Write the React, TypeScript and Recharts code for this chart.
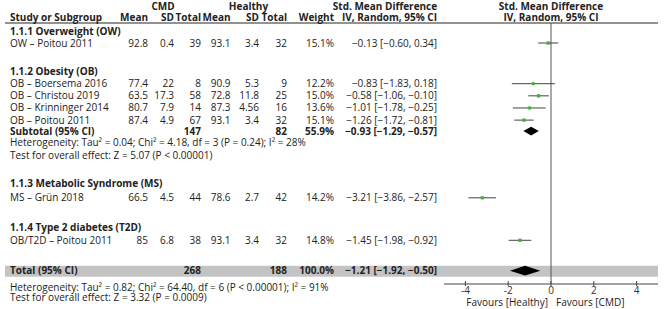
import React from "react";
import {
  ComposedChart,
  ReferenceArea,
  ReferenceLine,
  Scatter,
  XAxis,
  YAxis,
} from "recharts";

// Study-level data (CMD vs Healthy)
const studies = [
  "OW – Poitou 2011",
  "OB – Boersema 2016",
  "OB – Christou 2019",
  "OB – Krinninger 2014",
  "OB – Poitou 2011",
  "MS – Grün 2018",
  "OB/T2D – Poitou 2011",
];
const cmdMean = [92.8, 77.4, 63.5, 80.7, 87.4, 66.5, 85];
const cmdSd = [0.4, 22, 17.3, 7.9, 4.9, 4.5, 6.8];
const cmdTotal = [39, 8, 58, 14, 67, 44, 38];
const healthyMean = [93.1, 90.9, 72.8, 87.3, 93.1, 78.6, 93.1];
const healthySd = [3.4, 5.3, 11.8, 4.56, 3.4, 2.7, 3.4];
const healthyTotal = [32, 9, 25, 16, 32, 42, 32];
const weight = [15.1, 12.2, 15.0, 13.6, 15.1, 14.2, 14.8];
const smd = [-0.13, -0.83, -0.58, -1.01, -1.26, -3.21, -1.45];
const ciLow = [-0.6, -1.83, -1.06, -1.78, -1.72, -3.86, -1.98];
const ciHigh = [0.34, 0.18, -0.1, -0.25, -0.81, -2.57, -0.92];

const groups = [
  "1.1.1 Overweight (OW)",
  "1.1.2 Obesity (OB)",
  "1.1.3 Metabolic Syndrome (MS)",
  "1.1.4 Type 2 diabetes (T2D)",
];

// pooled results
const subtotal = { cmd: 147, healthy: 82, weight: 55.9, smd: -0.93, low: -1.29, high: -0.57 };
const total = { cmd: 268, healthy: 188, weight: 100.0, smd: -1.21, low: -1.92, high: -0.5 };
const subtotalHet = "Heterogeneity: Tau² = 0.04; Chi² = 4.18, df = 3 (P = 0.24); I² = 28%";
const subtotalTest = "Test for overall effect: Z = 5.07 (P < 0.00001)";
const totalHet = "Heterogeneity: Tau² = 0.82; Chi² = 64.40, df = 6 (P < 0.00001); I² = 91%";
const totalTest = "Test for overall effect: Z = 3.32 (P = 0.0009)";

const xTicks = [-4, -2, 0, 2, 4];

// ---- layout (row slots, in lines below the header rule) ----
const W = 669;
const H = 309;
const PLOT_TOP = 23;
const PLOT_BOTTOM = 284;
const PLOT_RIGHT = 658;
const PLOT_LEFT = 444;
const LINES = 21.5;
const studyLine = [1.65, 5, 6, 7, 8, 14.4, 17.9];
const groupLine = [0.7, 4.0, 13.2, 16.85];
const subtotalLine = 8.9;
const subtotalHetLine = 9.85;
const subtotalTestLine = 10.9;
const totalLine = 20.4;
const totalHetLine = 21.75;
const totalTestLine = 22.65;

const col = { mean: 148, sd: 174, n: 201, hmean: 230.5, hsd: 259, hn: 287, weight: 334, ci: 437 };

const FONT = "'Open Sans', 'DejaVu Sans', sans-serif";
const TEXT = "#222";
const GREEN = "#3cb43c";

const lineY = (l: number) => PLOT_TOP + (l / LINES) * (PLOT_BOTTOM - PLOT_TOP);
const base = (l: number) => lineY(l) + 3.5;

const m = (v: number) => v.toFixed(2).replace("-", "−");
const fmtCI = (e: number, lo: number, hi: number) => `${m(e)} [${m(lo)}, ${m(hi)}]`;

const points = smd.map((v, i) => ({ x: v, y: studyLine[i], w: weight[i] }));

function T({
  x,
  y,
  children,
  anchor = "end",
  bold = false,
}: {
  x: number;
  y: number;
  children: React.ReactNode;
  anchor?: "start" | "middle" | "end";
  bold?: boolean;
}) {
  return (
    <text x={x} y={y} textAnchor={anchor} fontWeight={bold ? 700 : 400} fontSize={10} fill={TEXT}>
      {children}
    </text>
  );
}

function Table() {
  return (
    <svg width={W} height={H} style={{ position: "absolute", left: 0, top: 0, fontFamily: FONT }}>
      <rect x={5} y={lineY(20.0)} width={PLOT_RIGHT - 5} height={lineY(20.9) - lineY(20.0)} fill="#c3c3c3" />
      <line x1={5} x2={PLOT_RIGHT} y1={PLOT_TOP} y2={PLOT_TOP} stroke="#6e6e6e" strokeWidth={1.5} />

      {/* header */}
      <T x={163} y={9.5} anchor="middle" bold>CMD</T>
      <T x={248.5} y={9.5} anchor="middle" bold>Healthy</T>
      <T x={385} y={9.5} anchor="middle" bold>Std. Mean Difference</T>
      <T x={551} y={9.5} anchor="middle" bold>Std. Mean Difference</T>
      <T x={10} y={21} anchor="start" bold>Study or Subgroup</T>
      <T x={col.mean} y={21} bold>Mean</T>
      <T x={col.sd} y={21} bold>SD</T>
      <T x={col.n} y={21} bold>Total</T>
      <T x={col.hmean} y={21} bold>Mean</T>
      <T x={col.hsd} y={21} bold>SD</T>
      <T x={col.hn} y={21} bold>Total</T>
      <T x={col.weight} y={21} bold>Weight</T>
      <T x={col.ci} y={21} bold>IV, Random, 95% CI</T>
      <T x={551} y={21} anchor="middle" bold>IV, Random, 95% CI</T>

      {groups.map((g, i) => (
        <T key={g} x={10} y={base(groupLine[i])} anchor="start" bold>{g}</T>
      ))}

      {studies.map((s, i) => {
        const y = base(studyLine[i]);
        return (
          <g key={s + i}>
            <T x={10} y={y} anchor="start">{s}</T>
            <T x={col.mean} y={y}>{String(cmdMean[i])}</T>
            <T x={col.sd} y={y}>{String(cmdSd[i])}</T>
            <T x={col.n} y={y}>{String(cmdTotal[i])}</T>
            <T x={col.hmean} y={y}>{String(healthyMean[i])}</T>
            <T x={col.hsd} y={y}>{String(healthySd[i])}</T>
            <T x={col.hn} y={y}>{String(healthyTotal[i])}</T>
            <T x={col.weight} y={y}>{weight[i].toFixed(1)}%</T>
            <T x={col.ci} y={y}>{fmtCI(smd[i], ciLow[i], ciHigh[i])}</T>
          </g>
        );
      })}

      <T x={10} y={base(subtotalLine)} anchor="start" bold>Subtotal (95% CI)</T>
      <T x={col.n} y={base(subtotalLine)} bold>{subtotal.cmd}</T>
      <T x={col.hn} y={base(subtotalLine)} bold>{subtotal.healthy}</T>
      <T x={col.weight} y={base(subtotalLine)} bold>{subtotal.weight.toFixed(1)}%</T>
      <T x={col.ci} y={base(subtotalLine)} bold>{fmtCI(subtotal.smd, subtotal.low, subtotal.high)}</T>
      <T x={10} y={base(subtotalHetLine)} anchor="start">{subtotalHet}</T>
      <T x={10} y={base(subtotalTestLine)} anchor="start">{subtotalTest}</T>

      <T x={10} y={base(totalLine)} anchor="start" bold>Total (95% CI)</T>
      <T x={col.n} y={base(totalLine)} bold>{total.cmd}</T>
      <T x={col.hn} y={base(totalLine)} bold>{total.healthy}</T>
      <T x={col.weight} y={base(totalLine)} bold>{total.weight.toFixed(1)}%</T>
      <T x={col.ci} y={base(totalLine)} bold>{fmtCI(total.smd, total.low, total.high)}</T>
      <T x={10} y={base(totalHetLine)} anchor="start">{totalHet}</T>
      <T x={10} y={base(totalTestLine)} anchor="start">{totalTest}</T>

      <T x={548} y={305.5}>Favours [Healthy]</T>
      <T x={556} y={305.5} anchor="start">Favours [CMD]</T>
    </svg>
  );
}

function Square(props: any) {
  const { cx, cy, payload } = props;
  const s = Math.sqrt(payload.w) * 0.85;
  return <rect x={cx - s / 2} y={cy - s / 2} width={s} height={s} fill={GREEN} />;
}

function AxisTick(props: any) {
  const { x, y, payload } = props;
  return (
    <g>
      <line x1={x} x2={x} y1={y - 3} y2={y + 2} stroke="#444" />
      <text x={x} y={y + 10} textAnchor="middle" fontSize={10} fill="#333" fontFamily={FONT}>
        {String(payload.value)}
      </text>
    </g>
  );
}

function diamond(e: number, lo: number, hi: number) {
  return (p: any) => {
    const { x, y, width, height } = p;
    const cx = x + (width * (e - lo)) / (hi - lo);
    const cy = y + height / 2;
    return (
      <polygon
        points={`${x},${cy} ${cx},${y} ${x + width},${cy} ${cx},${y + height}`}
        fill="#000"
      />
    );
  };
}

export default function App() {
  return (
    <div style={{ position: "absolute", left: 0, top: 0, width: W, height: H, background: "#fff" }}>
      <Table />
      <div style={{ position: "absolute", left: 0, top: 0 }}>
        <ComposedChart
          width={W}
          height={H}
          margin={{ top: PLOT_TOP, right: W - PLOT_RIGHT, bottom: 0, left: PLOT_LEFT }}
        >
          <XAxis
            type="number"
            dataKey="x"
            domain={[-5, 5]}
            ticks={xTicks}
            height={H - PLOT_BOTTOM}
            tickSize={0}
            tickMargin={0}
            tick={<AxisTick />}
            stroke="#444"
            allowDataOverflow
          />
          <YAxis type="number" dataKey="y" domain={[0, LINES]} reversed hide allowDataOverflow />
          <ReferenceLine x={0} stroke="#555" />
          {studies.map((s, i) => (
            <ReferenceLine
              key={s + i}
              segment={[
                { x: ciLow[i], y: studyLine[i] },
                { x: ciHigh[i], y: studyLine[i] },
              ]}
              stroke="#444"
            />
          ))}
          <ReferenceArea
            x1={subtotal.low}
            x2={subtotal.high}
            y1={subtotalLine - 0.36}
            y2={subtotalLine + 0.36}
            shape={diamond(subtotal.smd, subtotal.low, subtotal.high)}
          />
          <ReferenceArea
            x1={total.low}
            x2={total.high}
            y1={totalLine - 0.4}
            y2={totalLine + 0.4}
            shape={diamond(total.smd, total.low, total.high)}
          />
          <Scatter data={points} shape={<Square />} isAnimationActive={false} />
        </ComposedChart>
      </div>
    </div>
  );
}
